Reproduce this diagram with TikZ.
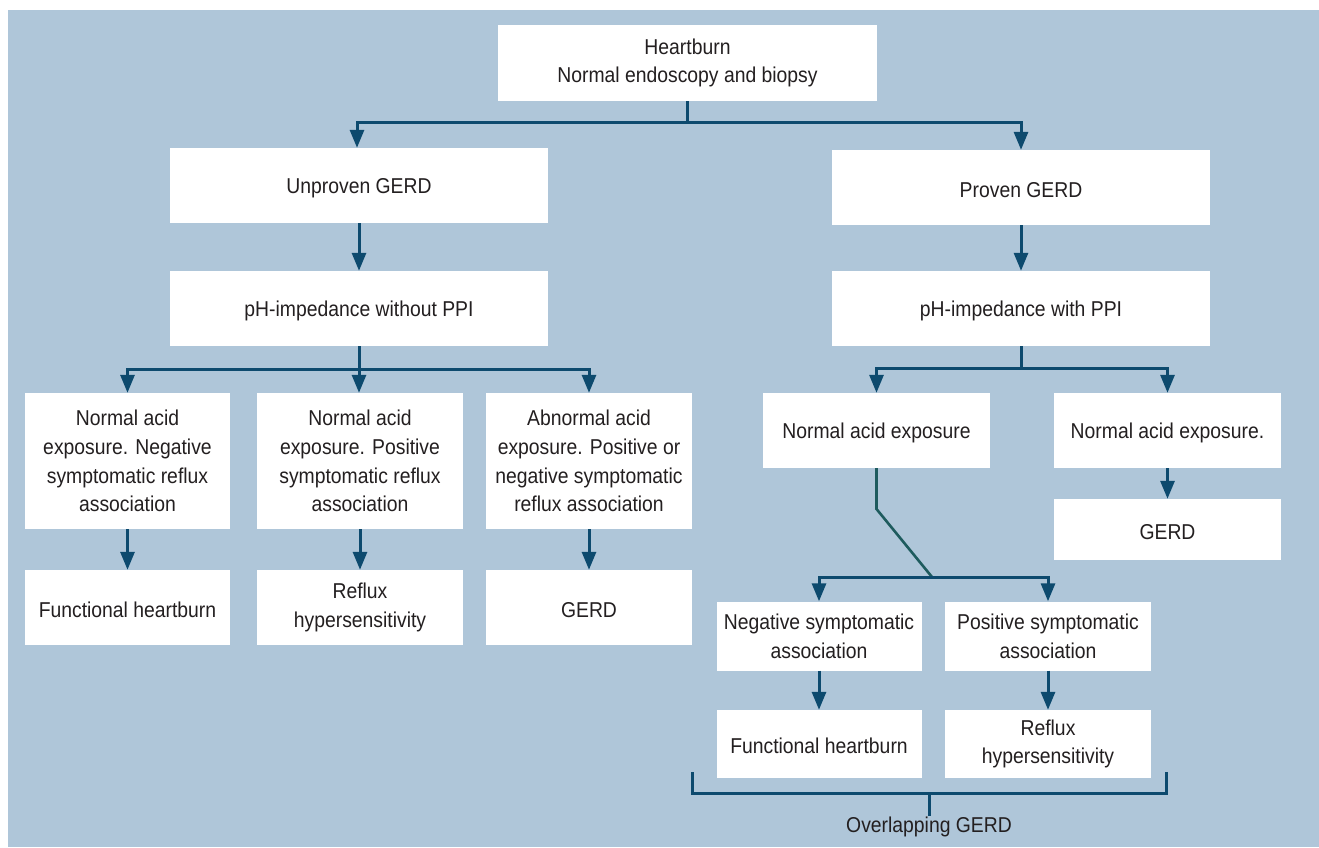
\documentclass[tikz,border=0pt]{standalone}
\usepackage{fontspec}
\setmainfont{Liberation Sans}[FakeStretch=0.9]
\usetikzlibrary{arrows.meta}
\definecolor{panel}{HTML}{AFC6D9}
\definecolor{arrowc}{HTML}{0D4A6E}
\definecolor{slantc}{HTML}{1E5B5E}
\definecolor{txt}{HTML}{231F20}
\tikzset{
  box/.style={fill=white, draw=none, align=center, text=txt, inner sep=2pt,
    font=\fontsize{21.5}{28.8}\selectfont, execute at begin node={\rule{0pt}{20pt}}},
  arr/.style={draw=arrowc, line width=3pt, -{Triangle[width=14pt,length=18pt]}},
  plain/.style={draw=arrowc, line width=3pt},
  slant/.style={draw=slantc, line width=2.6pt},
}
\begin{document}
\begin{tikzpicture}[x=1pt,y=-1pt]
\useasboundingbox (0,0) rectangle (1319,847);
\fill[white] (0,0) rectangle (1319,847);
\fill[panel] (8,10) rectangle (1319,847);

% nodes
\node[box, minimum width=379pt, minimum height=76pt, execute at begin node={\rule{0pt}{25pt}}] (top) at (687.5,63) {Heartburn\\Normal endoscopy and biopsy};
\node[box, minimum width=378pt, minimum height=75pt] (unp) at (359,185.5) {Unproven GERD};
\node[box, minimum width=378pt, minimum height=75pt] (prov) at (1021,187.5) {Proven GERD};
\node[box, minimum width=378pt, minimum height=75pt] (phwo) at (359,308.5) {pH-impedance without PPI};
\node[box, minimum width=378pt, minimum height=75pt] (phw) at (1021,308.5) {pH-impedance with PPI};

\node[box, minimum width=205pt, minimum height=136pt] (A) at (127.5,461) {Normal acid\\exposure. Negative\\symptomatic reflux\\association};
\node[box, minimum width=206pt, minimum height=136pt] (B) at (360,461) {Normal acid\\exposure. Positive\\symptomatic reflux\\association};
\node[box, minimum width=206pt, minimum height=136pt] (C) at (589,461) {Abnormal acid\\exposure. Positive or\\negative symptomatic\\reflux association};
\node[box, minimum width=205pt, minimum height=75pt] (A2) at (127.5,607.5) {Functional heartburn};
\node[box, minimum width=206pt, minimum height=75pt] (B2) at (360,607.5) {Reflux\\hypersensitivity};
\node[box, minimum width=206pt, minimum height=75pt] (C2) at (589,607.5) {GERD};

\node[box, minimum width=227pt, minimum height=75pt] (nae) at (876.5,430.5) {Normal acid exposure};
\node[box, minimum width=227pt, minimum height=75pt] (nae2) at (1167.5,430.5) {Normal acid exposure.};
\node[box, minimum width=227pt, minimum height=61pt] (gerdR) at (1167.5,529.5) {GERD};

\node[box, minimum width=205pt, minimum height=69pt] (neg) at (819,636) {Negative symptomatic\\association};
\node[box, minimum width=206pt, minimum height=69pt] (pos) at (1048,636) {Positive symptomatic\\association};
\node[box, minimum width=205pt, minimum height=68pt] (fh) at (819,744) {Functional heartburn};
\node[box, minimum width=206pt, minimum height=68pt] (rh) at (1048,744) {Reflux\\hypersensitivity};

\node[text=txt, font=\fontsize{21.5}{29}\selectfont, inner sep=1pt, anchor=north] (ov) at (929,816) {Overlapping GERD};

% junctions
\coordinate (j1) at (687.5,122);
\coordinate (j2) at (359,369);
\coordinate (j3) at (1021,368);
\coordinate (k1) at (876.5,509);
\coordinate (k2) at (932,577);

% connectors
\draw[plain] (top.south) -- (j1);
\draw[arr] (j1) -| ([xshift=-2pt]unp.north);
\draw[arr] (j1) -| (prov.north);
\draw[arr] (unp.south) -- (phwo.north);
\draw[arr] (prov.south) -- (phw.north);

\draw[plain] (phwo.south) -- (j2);
\draw[arr] (j2) -| (A.north);
\draw[arr] (j2) -- (B.north -| j2);
\draw[arr] (j2) -| (C.north);
\draw[arr] (A.south) -- (A2.north);
\draw[arr] (B.south) -- (B2.north);
\draw[arr] (C.south) -- (C2.north);

\draw[plain] (phw.south) -- (j3);
\draw[arr] (j3) -| (nae.north);
\draw[arr] (j3) -| (nae2.north);
\draw[arr] (nae2.south) -- (gerdR.north);

\draw[slant, line join=miter] (nae.south) -- (k1) -- (k2);
\draw[arr] (k2) -| (neg.north);
\draw[arr] (k2) -| (pos.north);
\draw[arr] (neg.south) -- (fh.north);
\draw[arr] (pos.south) -- (rh.north);

% bracket
\coordinate (bl) at (692,772);
\coordinate (br) at (1166,772);
\coordinate (bm) at (929,793);
\draw[plain] (bl) -- (bl |- bm) -- (br |- bm) -- (br);
\draw[plain] (bm) -- (ov.north);
\end{tikzpicture}
\end{document}
